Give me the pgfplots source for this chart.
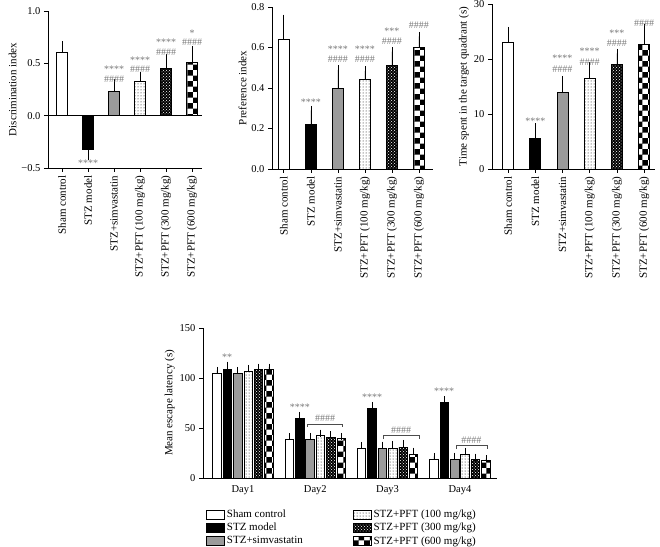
\documentclass[border=0pt]{standalone}
\usepackage{pgfplots}
\pgfplotsset{compat=1.18}
\usetikzlibrary{patterns}
\usepackage{fontspec}
\setmainfont{Liberation Serif}
\definecolor{barGray}{HTML}{9B9B9B}
\definecolor{annGray}{HTML}{7A7A7A}
\pgfplotsset{
  sham/.style={fill=white, draw=black, line width=0.8pt},
  stz/.style={fill=black, draw=black, line width=0.8pt},
  simva/.style={fill=barGray, draw=black, line width=0.8pt},
  pftA/.style={draw=black, line width=0.8pt, pattern=dots},
  pftB/.style={fill=black, draw=black, line width=0.8pt, postaction={pattern=crosshatch dots, pattern color=white}},
  pftC/.style={draw=black, line width=0.8pt, pattern=checkerboard},
  ebT/.style={error bars/y dir=plus, error bars/y explicit,
    error bars/error bar style={line width=0.8pt, black, solid},
    error bars/error mark options={line width=0.8pt, mark size=4.5pt, black}},
  ebB/.style={error bars/y dir=plus, error bars/y explicit,
    error bars/error bar style={line width=0.8pt, black, solid},
    error bars/error mark options={line width=0.8pt, mark size=3.5pt, black}},
  myaxis/.style={scale only axis, anchor=south west,
    axis x line*=bottom, axis y line*=left,
    axis line style={line width=0.8pt, -},
    every tick/.style={line width=0.8pt, black},
    tick align=outside, major tick length=4pt,
    /pgf/number format/assume math mode=true,
    tick label style={font=\fontsize{10.5}{12}\selectfont},
    label style={font=\fontsize{11}{12}\selectfont},
    ylabel style={yshift=-2pt}},
  top/.style={myaxis, ybar, bar shift=0pt, bar width=11pt,
    xtick={0,...,5},
    xticklabels={Sham control, STZ model, STZ+simvastatin, STZ+PFT (100 mg/kg), STZ+PFT (300 mg/kg), STZ+PFT (600 mg/kg)},
    x tick label style={rotate=90, anchor=east, font=\fontsize{11}{12}\selectfont}},
  mylegimg/.style={legend image code/.code={\draw[##1] (0pt,-4.5pt) rectangle (18pt,4.5pt);}}
}
\tikzset{ann/.style={font=\fontsize{10}{10}\selectfont, text=annGray, inner sep=0pt}}
\begin{document}
\begin{tikzpicture}
\useasboundingbox (0,0) rectangle (660pt,546pt);
% ---------- Panel 1 ----------
\begin{axis}[top, at={(48pt,378pt)}, width=154pt, height=157pt,
  xmin=-0.54, xmax=5.38, ymin=-0.5, ymax=1.0,
  ytick={-0.5,0,0.5,1}, yticklabels={−0.5,0.0,0.5,1.0},
  ylabel={Discrimination index}]
\addplot[sham, ebT] coordinates {(0,0.60) +- (0,0.07)};
\addplot[stz, ebT, error bars/y dir=minus] coordinates {(1,-0.32) +- (0,0.06)};
\addplot[simva, ebT] coordinates {(2,0.23) +- (0,0.08)};
\addplot[pftA, ebT] coordinates {(3,0.33) +- (0,0.04)};
\addplot[pftB, ebT] coordinates {(4,0.45) +- (0,0.10)};
\addplot[pftC, ebT] coordinates {(5,0.51) +- (0,0.11)};
\draw[line width=0.8pt] (axis cs:-0.54,0) -- (axis cs:5.38,0);
\node[ann] at (axis cs:1,-0.45) {****};
\node[ann] at (axis cs:2,0.44) {****};
\node[ann] at (axis cs:2,0.35) {\#\#\#\#};
\node[ann] at (axis cs:3,0.53) {****};
\node[ann] at (axis cs:3,0.44) {\#\#\#\#};
\node[ann] at (axis cs:4,0.70) {****};
\node[ann] at (axis cs:4,0.61) {\#\#\#\#};
\node[ann] at (axis cs:5,0.79) {*};
\node[ann] at (axis cs:5,0.70) {\#\#\#\#};
\end{axis}
% ---------- Panel 2 ----------
\begin{axis}[top, at={(272pt,377pt)}, width=161pt, height=162pt,
  xmin=-0.44, xmax=5.52, ymin=0, ymax=0.8,
  ytick={0,0.2,0.4,0.6,0.8}, yticklabels={0.0,0.2,0.4,0.6,0.8},
  ylabel={Preference index}]
\addplot[sham, ebT] coordinates {(0,0.64) +- (0,0.10)};
\addplot[stz, ebT] coordinates {(1,0.22) +- (0,0.07)};
\addplot[simva, ebT] coordinates {(2,0.40) +- (0,0.09)};
\addplot[pftA, ebT] coordinates {(3,0.44) +- (0,0.045)};
\addplot[pftB, ebT] coordinates {(4,0.51) +- (0,0.07)};
\addplot[pftC, ebT] coordinates {(5,0.60) +- (0,0.055)};
\node[ann] at (axis cs:1,0.33) {****};
\node[ann] at (axis cs:2,0.59) {****};
\node[ann] at (axis cs:2,0.54) {\#\#\#\#};
\node[ann] at (axis cs:3,0.59) {****};
\node[ann] at (axis cs:3,0.54) {\#\#\#\#};
\node[ann] at (axis cs:4,0.68) {***};
\node[ann] at (axis cs:4,0.63) {\#\#\#\#};
\node[ann] at (axis cs:5,0.71) {\#\#\#\#};
\end{axis}
% ---------- Panel 3 ----------
\begin{axis}[top, at={(492pt,377pt)}, width=163pt, height=165pt,
  xmin=-0.59, xmax=5.40, ymin=0, ymax=30,
  ytick={0,10,20,30},
  ylabel={Time spent in the target quadrant (s)}]
\addplot[sham, ebT] coordinates {(0,23.0) +- (0,2.0)};
\addplot[stz, ebT] coordinates {(1,5.5) +- (0,2.0)};
\addplot[simva, ebT] coordinates {(2,14.0) +- (0,2.1)};
\addplot[pftA, ebT] coordinates {(3,16.4) +- (0,2.2)};
\addplot[pftB, ebT] coordinates {(4,19.1) +- (0,1.9)};
\addplot[pftC, ebT] coordinates {(5,22.7) +- (0,2.9)};
\node[ann] at (axis cs:1,8.7) {****};
\node[ann] at (axis cs:2,20.2) {****};
\node[ann] at (axis cs:2,18.2) {\#\#\#\#};
\node[ann] at (axis cs:3,21.5) {****};
\node[ann] at (axis cs:3,19.5) {\#\#\#\#};
\node[ann] at (axis cs:4,24.7) {***};
\node[ann] at (axis cs:4,22.9) {\#\#\#\#};
\node[ann] at (axis cs:5,26.5) {\#\#\#\#};
\end{axis}
% ---------- Bottom panel ----------
\begin{axis}[myaxis, at={(203pt,68pt)}, width=294pt, height=150pt,
  ybar, bar width=8.5pt,
  xmin=0.447, xmax=4.513, ymin=0, ymax=150,
  ytick={0,50,100,150}, xtick={1,2,3,4}, xticklabels={Day1,Day2,Day3,Day4},
  major x tick style={draw=none},
  ylabel={Mean escape latency (s)},
  legend columns=2, mylegimg,
  legend style={at={(rel axis cs:0.01,-0.2)}, anchor=north west, draw=none, fill=none,
    inner sep=0pt, font=\fontsize{11}{12}\selectfont, row sep=0pt,
    /tikz/every even column/.append style={column sep=48pt}},
  legend cell align=left]
\addplot[sham, ebB, forget plot, bar shift=-26pt] coordinates {(1,105) +- (0,2.7) (2,39) +- (0,2.3) (3,29.3) +- (0,3.4) (4,19) +- (0,2.7)};
\addplot[stz, ebB, forget plot, bar shift=-15.6pt] coordinates {(1,108.7) +- (0,4.3) (2,59.3) +- (0,3.4) (3,70) +- (0,2.7) (4,75.7) +- (0,2.6)};
\addplot[simva, ebB, forget plot, bar shift=-5.2pt] coordinates {(1,105) +- (0,2.7) (2,39) +- (0,2.7) (3,29.3) +- (0,3.7) (4,19) +- (0,3)};
\addplot[pftA, ebB, forget plot, bar shift=5.2pt] coordinates {(1,106.7) +- (0,3) (2,42.3) +- (0,2.7) (3,30) +- (0,3.7) (4,24) +- (0,2.7)};
\addplot[pftB, ebB, forget plot, bar shift=15.6pt] coordinates {(1,108.3) +- (0,2.7) (2,41) +- (0,2.3) (3,31) +- (0,3.7) (4,18.7) +- (0,2.3)};
\addplot[pftC, ebB, forget plot, bar shift=26pt] coordinates {(1,108.3) +- (0,2.7) (2,39.3) +- (0,2.4) (3,24) +- (0,3) (4,17.7) +- (0,1.6)};
\addlegendimage{sham, mylegimg}\addlegendentry{Sham control}
\addlegendimage{pftA, mylegimg}\addlegendentry{STZ+PFT (100 mg/kg)}
\addlegendimage{stz, mylegimg}\addlegendentry{STZ model}
\addlegendimage{pftB, mylegimg}\addlegendentry{STZ+PFT (300 mg/kg)}
\addlegendimage{simva, mylegimg}\addlegendentry{STZ+simvastatin}
\addlegendimage{pftC, mylegimg}\addlegendentry{STZ+PFT (600 mg/kg)}
% annotations
\node[ann] at (axis cs:0.779,120.7) {**};
\node[ann] at (axis cs:1.788,70.7) {****};
\node[ann] at (axis cs:2.785,80.7) {****};
\node[ann] at (axis cs:3.78,86.3) {****};
\draw[line width=0.8pt, black!70] (axis cs:1.895,51.5) -- (axis cs:1.895,54) -- (axis cs:2.379,54) -- (axis cs:2.379,51.5);
\node[ann] at (axis cs:2.137,59.3) {\#\#\#\#};
\draw[line width=0.8pt, black!70] (axis cs:2.937,39) -- (axis cs:2.937,42.3) -- (axis cs:3.435,42.3) -- (axis cs:3.435,39);
\node[ann] at (axis cs:3.186,47.5) {\#\#\#\#};
\draw[line width=0.8pt, black!70] (axis cs:3.946,29) -- (axis cs:3.946,32.3) -- (axis cs:4.375,32.3) -- (axis cs:4.375,29);
\node[ann] at (axis cs:4.16,37.5) {\#\#\#\#};
\end{axis}
\end{tikzpicture}
\end{document}
